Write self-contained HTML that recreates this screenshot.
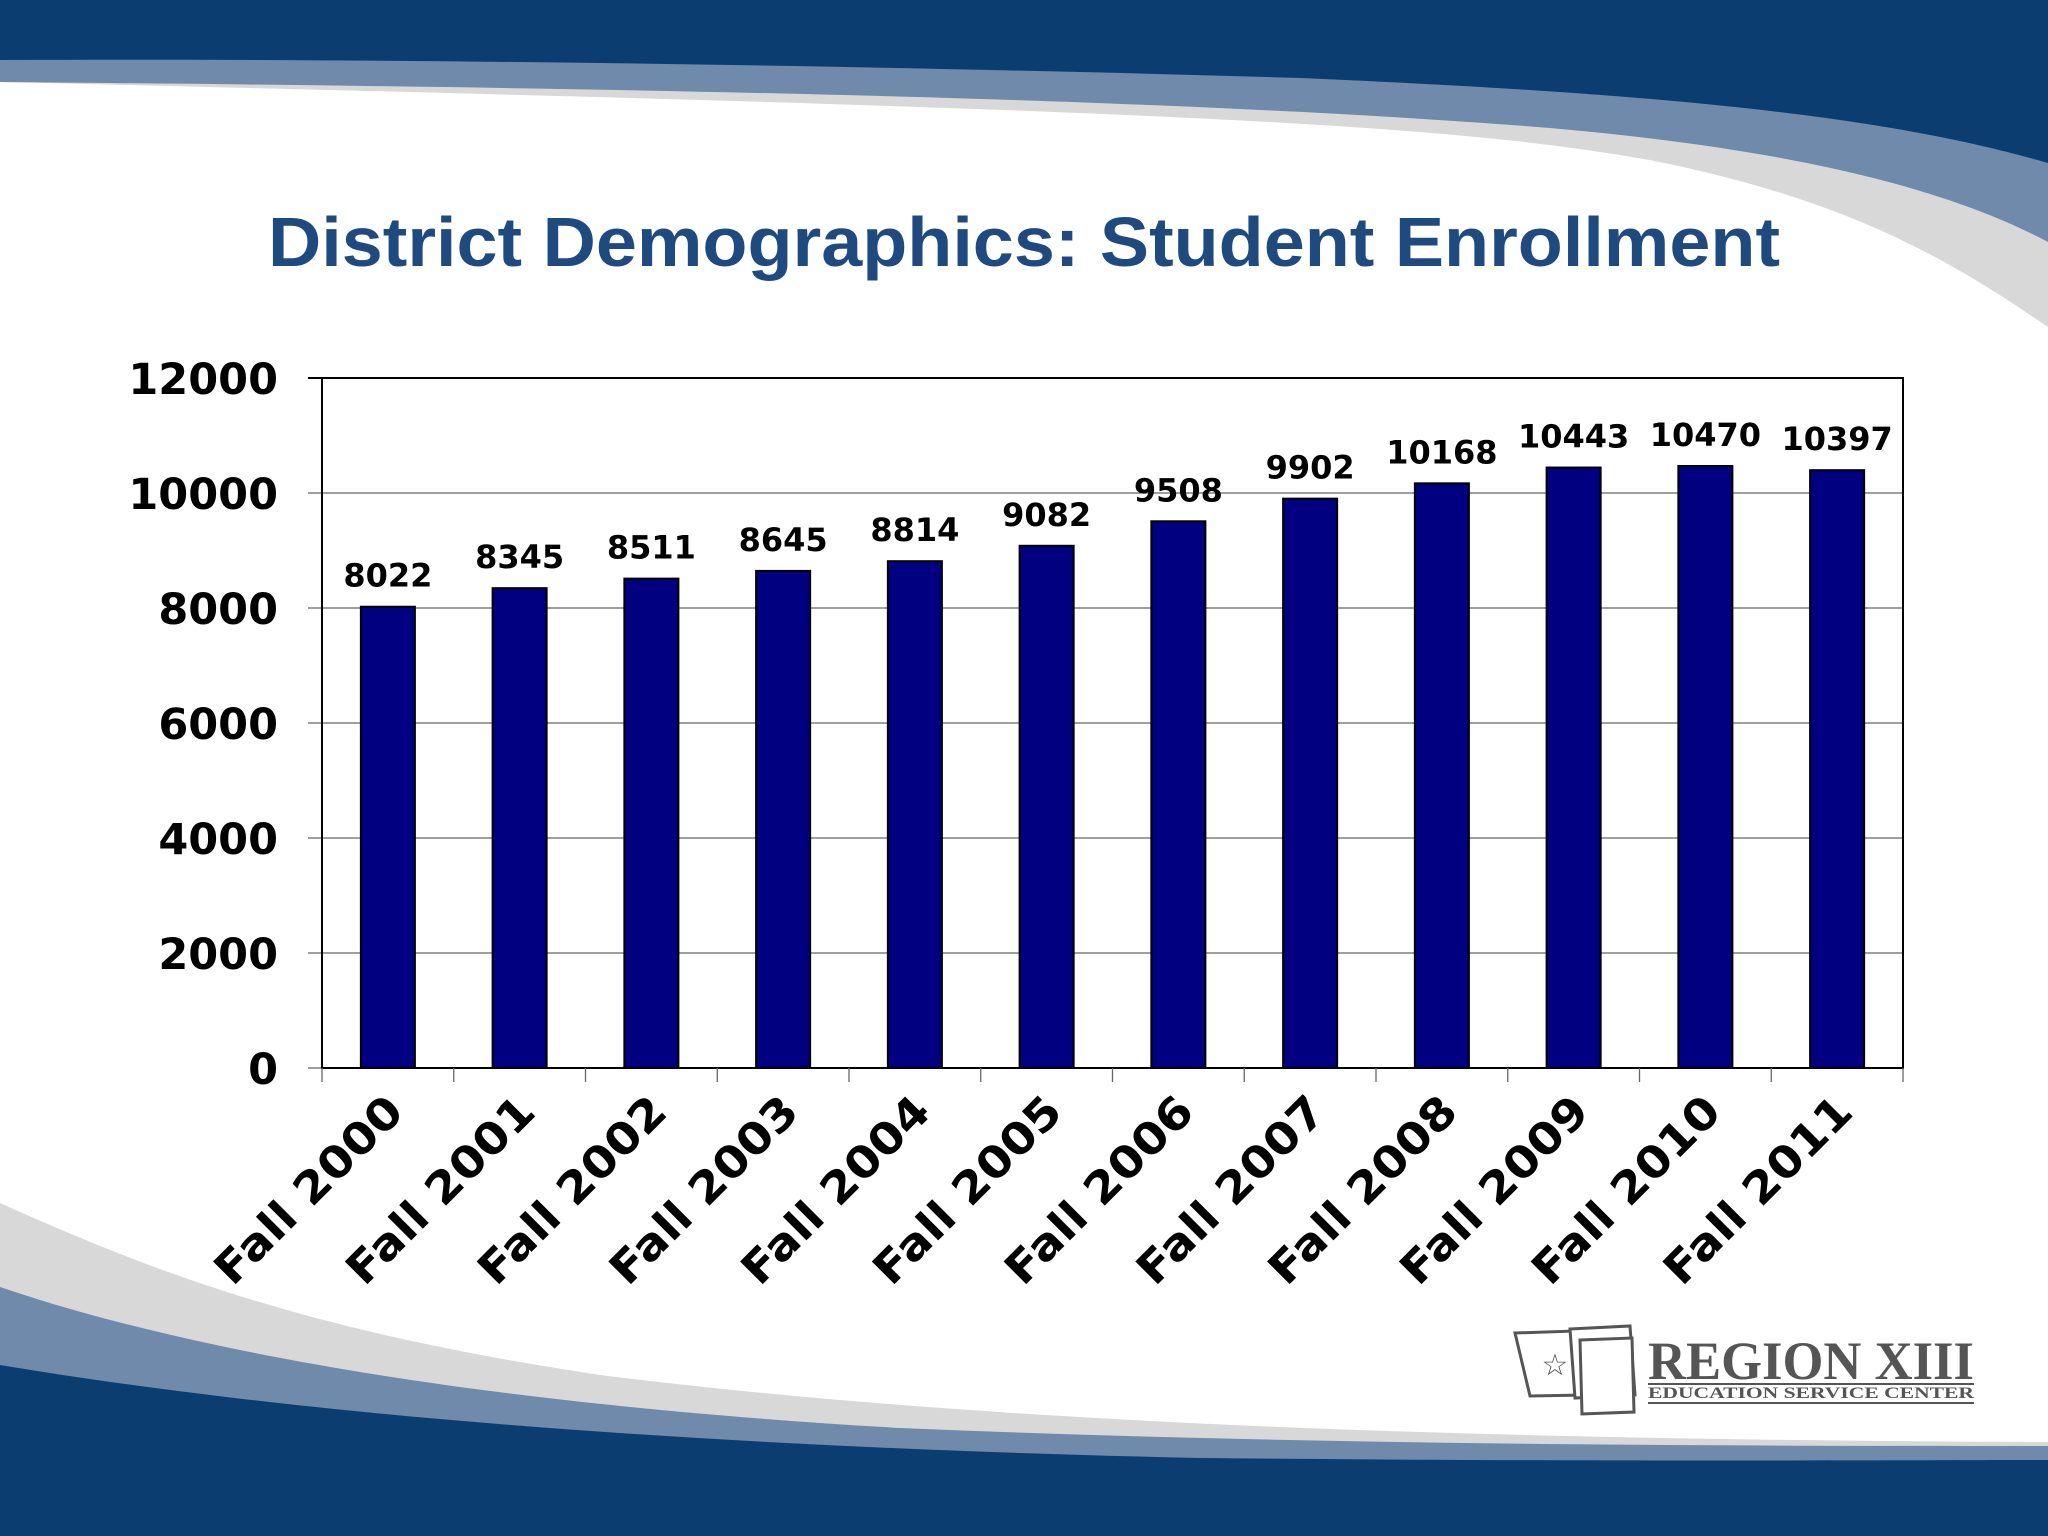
<!DOCTYPE html>
<html><head><meta charset="utf-8"><style>
html,body{margin:0;padding:0;background:#fff}
svg{display:block}
</style></head><body>
<svg id="chart" width="2048" height="1536" viewBox="0 0 2048 1536" xmlns="http://www.w3.org/2000/svg">
<rect width="2048" height="1536" fill="#ffffff"/>
<g>
<path d="M0,0 H2048 V327 C1950,260 1850,200 1650,160 C1450,125 1200,110 0,82 Z" fill="#d8d8d8"/>
<path d="M0,0 H2048 V242 C1950,190 1800,150 1550,128 C1200,100 700,88 0,82 Z" fill="#6f8aaa"/>
<path d="M0,0 H2048 V163 C1900,120 1700,95 1300,78 C900,66 400,58 0,60 Z" fill="#0c3d71"/>
</g>
<g>
<path d="M0,1203 C150,1270 300,1330 600,1375 C1000,1425 1500,1440 2048,1442 V1536 H0 Z" fill="#d8d8d8"/>
<path d="M0,1287 C200,1355 500,1405 900,1428 C1300,1445 1700,1446 2048,1446 V1536 H0 Z" fill="#6f8aaa"/>
<path d="M0,1365 C300,1415 700,1447 1200,1458 C1600,1462 1900,1460 2048,1460 V1536 H0 Z" fill="#0c3d71"/>
</g>
<text x="1024" y="266" text-anchor="middle" font-family="Liberation Sans, sans-serif" font-weight="bold" font-size="70" fill="#1f4a7f" textLength="1512" lengthAdjust="spacingAndGlyphs">District Demographics: Student Enrollment</text>
<g id="plot"></g>
<g>
<path d="M1515,1333 L1575,1331 L1585,1395 L1530,1396 Z" fill="none" stroke="#555" stroke-width="3"/>
<path d="M1570,1329 L1630,1326 L1635,1395 L1575,1398 Z" fill="#fff" stroke="#555" stroke-width="3"/>
<path d="M1580,1340 L1632,1338 L1634,1412 L1582,1414 Z" fill="#fff" stroke="#555" stroke-width="3"/>
<text x="1555" y="1375" font-size="30" fill="#555" text-anchor="middle" font-family="DejaVu Sans, sans-serif">☆</text>
<text x="1648" y="1379" font-family="Liberation Serif, serif" font-weight="bold" font-size="54" fill="#555" textLength="326" lengthAdjust="spacingAndGlyphs">REGION XIII</text>
<rect x="1648" y="1383" width="326" height="2" fill="#555"/>
<text x="1648" y="1398" font-family="Liberation Serif, serif" font-weight="bold" font-size="16" fill="#555" textLength="326" lengthAdjust="spacingAndGlyphs">EDUCATION SERVICE CENTER</text>
<rect x="1648" y="1402" width="326" height="2" fill="#555"/>
</g>
</svg>
<script>
const categories = ["Fall 2000","Fall 2001","Fall 2002","Fall 2003","Fall 2004","Fall 2005","Fall 2006","Fall 2007","Fall 2008","Fall 2009","Fall 2010","Fall 2011"];
const enrollment = [8022,8345,8511,8645,8814,9082,9508,9902,10168,10443,10470,10397];
const yTicks = [0,2000,4000,6000,8000,10000,12000];

const NS = "http://www.w3.org/2000/svg";
const plot = document.getElementById('plot');
const L = 322, R = 1903, T = 378, B = 1068, yMax = 12000;
const slot = (R - L) / categories.length;
const barW = slot * 0.41;
function y(v){ return B - (v / yMax) * (B - T); }
function xc(i){ return L + slot * (i + 0.5); }
function mk(tag, attrs){ const e = document.createElementNS(NS, tag); for (const k in attrs) e.setAttribute(k, attrs[k]); plot.appendChild(e); return e; }

yTicks.forEach(function(t){
  const g = mk('line', {x1: L - 14, x2: R, y1: y(t), y2: y(t), stroke: t === yMax ? '#000' : '#666', 'stroke-width': t === yMax ? 2 : 1.3});
  
  
  const lb = mk('text', {x: 278, y: y(t) + 16, 'text-anchor': 'end', 'font-family': 'DejaVu Sans, sans-serif', 'font-weight': 'bold', 'font-size': 43, fill: '#000'});
  lb.textContent = t;
  
  
});
const frame = mk('rect', {x: L, y: T, width: R - L, height: B - T, fill: 'none', stroke: '#000', 'stroke-width': 2});



categories.forEach(function(c, i){
  const v = enrollment[i];
  const bar = mk('rect', {x: xc(i) - barW / 2, y: y(v), width: barW, height: B - y(v), fill: '#000080', stroke: '#000', 'stroke-width': 2});
  
  
  const vl = mk('text', {x: xc(i), y: y(v) - 20, 'text-anchor': 'middle', 'font-family': 'DejaVu Sans, sans-serif', 'font-weight': 'bold', 'font-size': 32, fill: '#000'});
  vl.textContent = v;
  
  
  const tk = mk('line', {x1: L + slot * i, x2: L + slot * i, y1: B, y2: B + 14, stroke: '#666', 'stroke-width': 1.3});
  
  
  const xl = mk('text', {x: 0, y: 0, 'text-anchor': 'end', 'font-family': 'DejaVu Sans, sans-serif', 'font-weight': 'bold', 'font-size': 44, fill: '#000', transform: 'translate(' + (xc(i) + 18) + ',' + (B + 46) + ') rotate(-45)', textLength: 245, lengthAdjust: 'spacingAndGlyphs'});
  xl.textContent = c;
  
  
});
const lastTick = mk('line', {x1: R, x2: R, y1: B, y2: B + 14, stroke: '#666', 'stroke-width': 1.3});


</script>
</body></html>
